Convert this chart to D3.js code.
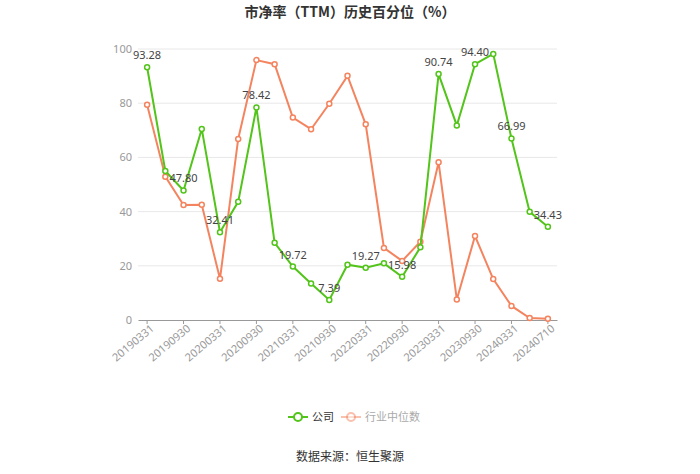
<!DOCTYPE html>
<html>
<head>
<meta charset="utf-8">
<script src="https://cdn.jsdelivr.net/npm/d3@7"></script>
<style>
  body { margin: 0; background: #fff; }
  #chart { width: 700px; height: 474px; }
  text { font-family: "Noto Sans CJK SC", "Noto Sans", sans-serif; }
</style>
</head>
<body>
<div id="chart"></div>
<script>
// data
var dates = ["20190331", "20190630", "20190930", "20191231", "20200331", "20200630",
    "20200930", "20201231", "20210331", "20210630", "20210930", "20211231",
    "20220331", "20220630", "20220930", "20221231", "20230331", "20230630",
    "20230930", "20231231", "20240331", "20240630", "20240710"];
var company = [93.28, 55.0, 47.80, 70.5, 32.41, 43.6, 78.42, 28.5, 19.72, 13.5, 7.39, 20.4,
    19.27, 20.9, 15.98, 26.8, 90.74, 71.8, 94.40, 98.2, 66.99, 39.9, 34.43];
var industry = [79.4, 52.9, 42.4, 42.5, 15.2, 66.8, 95.9, 94.4, 74.7, 70.4, 79.8, 90.1,
    72.2, 26.6, 21.8, 28.9, 58.2, 7.6, 31.0, 15.1, 5.2, 0.7, 0.5];
var yTicks = [0, 20, 40, 60, 80, 100];

var green = "#52c41a";
var orange = "#f4845f";

var svg = d3.select("#chart").append("svg")
    .attr("width", 700)
    .attr("height", 474);

// title
svg.append("text")
    .attr("x", 350).attr("y", 17)
    .attr("text-anchor", "middle")
    .attr("font-size", 14).attr("font-weight", "bold")
    .attr("fill", "#333")
    .text("市净率（TTM）历史百分位（%）");

var xScale = d3.scaleBand()
    .domain(dates)
    .range([138, 557]);

var yScale = d3.scaleLinear()
    .domain([0, 100])
    .range([320, 49]);

var xc = d => xScale(d) + xScale.bandwidth() / 2;

// grid
svg.append("g").selectAll("line")
    .data(yTicks.slice(1))
    .enter().append("line")
    .attr("x1", 138).attr("x2", 557)
    .attr("y1", d => yScale(d)).attr("y2", d => yScale(d))
    .attr("stroke", "#e8e8e8");

// y axis labels
var leftAxis = d3.axisLeft(yScale).tickValues(yTicks).tickSize(0).tickPadding(6);
var yAxis = svg.append("g")
    .attr("transform", "translate(138,0)")
    .call(leftAxis);
yAxis.select(".domain").remove();
yAxis.selectAll("text").attr("fill", "#999").attr("font-size", 11)
    .style("font-family", "'Noto Sans', sans-serif");

// x axis
var shown = dates.filter((d, i) => i % 2 == 0);
var bottomAxis = d3.axisBottom(xScale).tickValues(shown).tickSize(4).tickSizeOuter(0);
var xAxis = svg.append("g")
    .attr("transform", "translate(0,320)")
    .call(bottomAxis);
xAxis.select(".domain").attr("stroke", "#999");
xAxis.selectAll(".tick line").attr("stroke", "#999");
xAxis.selectAll("text")
    .attr("fill", "#999")
    .attr("font-size", 11)
    .style("font-family", "'Noto Sans', sans-serif")
    .attr("text-anchor", "end")
    .attr("transform", "translate(3,4) rotate(-40)")
    .attr("dy", "0.3em")
    .attr("y", 4);

// lines
var line = function(vals) {
    return d3.line()
        .x((d, i) => xc(dates[i]))
        .y(d => yScale(d))(vals);
};

function drawSeries(vals, color) {
    svg.append("path")
        .attr("d", line(vals))
        .attr("fill", "none")
        .attr("stroke", color)
        .attr("stroke-width", 2);
    svg.append("g").selectAll("circle")
        .data(vals)
        .enter().append("circle")
        .attr("cx", (d, i) => xc(dates[i]))
        .attr("cy", d => yScale(d))
        .attr("r", 2.5)
        .attr("fill", "#fff")
        .attr("stroke", color)
        .attr("stroke-width", 1.5);
}

drawSeries(industry, orange);
drawSeries(company, green);

// value labels on every other company point
svg.append("g").selectAll("text")
    .data(company.map((v, i) => ({v: v, i: i})).filter(d => d.i % 2 == 0))
    .enter().append("text")
    .attr("x", d => xc(dates[d.i]))
    .attr("y", d => yScale(d.v) - 8)
    .attr("text-anchor", "middle")
    .attr("font-size", 11)
    .attr("fill", "#444")
    .style("font-family", "'Noto Sans', sans-serif")
    .text(d => d.v.toFixed(2));

// legend
var legend = [
    {name: "公司", color: green, text: "#333", x: 288, op: 1},
    {name: "行业中位数", color: orange, text: "#aaa", x: 341, op: 0.5}
];
var lg = svg.append("g").selectAll("g")
    .data(legend)
    .enter().append("g")
    .attr("transform", d => `translate(${d.x},417)`);
lg.append("line")
    .attr("x1", 0).attr("x2", 20)
    .attr("stroke", d => d.color).attr("stroke-width", 2)
    .attr("opacity", d => d.op);
lg.append("circle")
    .attr("cx", 10).attr("r", 4)
    .attr("fill", "#fff")
    .attr("stroke", d => d.color).attr("stroke-width", 2)
    .attr("opacity", d => d.op);
lg.append("text")
    .attr("x", 24).attr("y", 4)
    .attr("font-size", 11)
    .attr("fill", d => d.text)
    .text(d => d.name);

// source
svg.append("text")
    .attr("x", 350).attr("y", 461)
    .attr("text-anchor", "middle")
    .attr("font-size", 12)
    .attr("fill", "#333")
    .text("数据来源：恒生聚源");
</script>
</body>
</html>
